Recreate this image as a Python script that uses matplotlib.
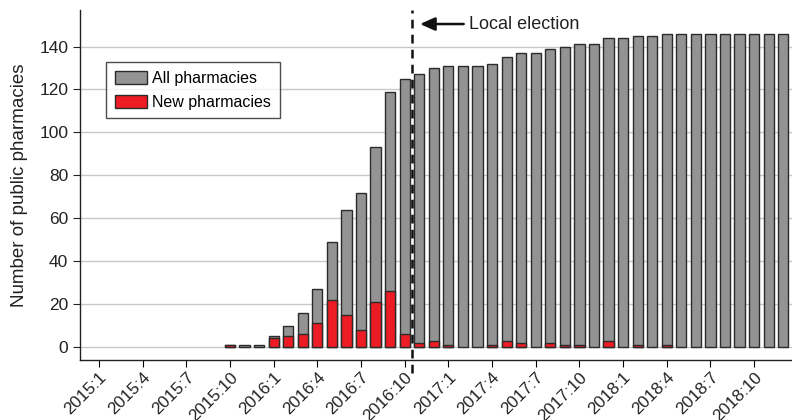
import numpy as np
import matplotlib.pyplot as plt
from matplotlib.patches import Patch

plt.rcParams["font.family"] = ["Liberation Sans", "DejaVu Sans"]

# months 2015:1 .. 2018:12
months = [f"{y}:{m}" for y in range(2015, 2019) for m in range(1, 13)]

all_pharmacies = [
    0, 0, 0, 0, 0, 0, 0, 0, 0, 1, 1, 1,               # 2015
    5, 10, 16, 27, 49, 64, 72, 93, 119, 125, 127, 130,  # 2016
    131, 131, 131, 132, 135, 137, 137, 139, 140, 141, 141, 144,  # 2017
    144, 145, 145, 146, 146, 146, 146, 146, 146, 146, 146, 146,  # 2018
]
new_pharmacies = [
    0, 0, 0, 0, 0, 0, 0, 0, 0, 1, 0, 0,
    4, 5, 6, 11, 22, 15, 8, 21, 26, 6, 2, 3,
    1, 0, 0, 1, 3, 2, 0, 2, 1, 1, 0, 3,
    0, 1, 0, 1, 0, 0, 0, 0, 0, 0, 0, 0,
]
tick_labels = months[::3]
election_month = "2016:10"

GREY = "#939393"
RED = "#ed1c24"
EDGE = "#2b2b2b"

fig = plt.figure(figsize=(7.92, 4.2), dpi=100)
ax = fig.add_axes([0.101, 0.143, 0.899, 0.833])

x = np.arange(len(months))
total = np.array(all_pharmacies)
new = np.array(new_pharmacies)
show = total > 0

ax.bar(x[show], total[show], width=0.7, color=GREY, edgecolor=EDGE, linewidth=1.0, zorder=2)
red_show = new > 0
ax.bar(x[red_show], new[red_show], width=0.7, color=RED, edgecolor=EDGE, linewidth=1.0, zorder=3)

# election marker
ex = months.index(election_month) + 0.5
ax.plot([ex, ex], [-12, 157], color="#111111", linestyle=(0, (3.5, 2.5)), linewidth=1.8,
        zorder=4, clip_on=False)
ax.annotate("", xy=(ex + 0.55, 150.5), xytext=(ex + 3.55, 150.5),
            arrowprops=dict(arrowstyle="-|>,head_length=0.9,head_width=0.4", color="#111111",
                            lw=1.8, shrinkA=0, shrinkB=0))
ax.text(ex + 3.9, 150.5, "Local election", fontsize=13, va="center", ha="left", color="#222222")

ax.set_xlim(-1.3, 47.6)
ax.set_ylim(-6, 157)
ax.set_yticks(np.arange(0, 141, 20))
ax.set_xticks(x[::3])
ax.set_xticklabels(tick_labels, rotation=45, ha="right", rotation_mode="anchor", fontsize=12.3,
                   color="#222222")
ax.tick_params(axis="y", labelsize=12.5, colors="#222222", length=5)
ax.tick_params(axis="x", length=5, pad=2)
ax.grid(axis="y", color="#c8c8c8", linewidth=1.0, zorder=0)
ax.set_axisbelow(True)
ax.set_ylabel("Number of public pharmacies", fontsize=13.5, color="#222222", labelpad=8)
for s in ["top", "right"]:
    ax.spines[s].set_visible(False)
for s in ["left", "bottom"]:
    ax.spines[s].set_color("#222222")
    ax.spines[s].set_linewidth(1.0)

handles = [Patch(facecolor=GREY, edgecolor=EDGE, label="All pharmacies"),
           Patch(facecolor=RED, edgecolor=EDGE, label="New pharmacies")]
leg = ax.legend(handles=handles, loc="upper left", bbox_to_anchor=(0.0365, 0.852), fontsize=11.5,
                frameon=True, fancybox=False, edgecolor="#222222", handlelength=2.0,
                handleheight=0.9, handletextpad=0.35, borderpad=0.55, labelspacing=0.55,
                borderaxespad=0)
leg.get_frame().set_linewidth(1.0)

fig.savefig("out.png", dpi=100)
